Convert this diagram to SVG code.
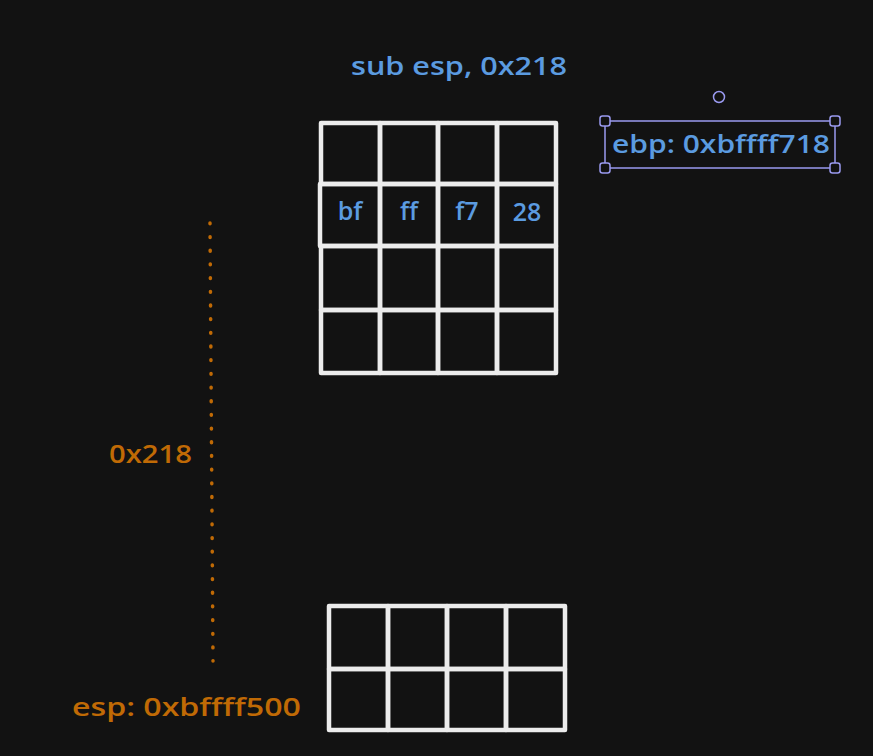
<svg xmlns="http://www.w3.org/2000/svg" width="873" height="756" viewBox="0 0 873 756">
<style>
.cell{fill:none;stroke:#ececec;stroke-width:4.5;stroke-linejoin:round}
.blue{fill:#5b9be0;font-family:"Open Sans","Liberation Sans",sans-serif;font-size:25px;font-weight:600}
.orange{fill:#c06a05;font-family:"Open Sans","Liberation Sans",sans-serif;font-size:25px;font-weight:600}
.sel{fill:none;stroke:#9a9af0;stroke-width:1.5}
.handle{fill:#121212;stroke:#9a9af0;stroke-width:1.5}
</style>
<rect width="873" height="756" fill="#121212"/>
<g id="title"><text class="blue" x="351" y="75" textLength="216" lengthAdjust="spacingAndGlyphs">sub esp, 0x218</text></g>
<g id="stack-top">
<rect class="cell" x="321" y="123" width="59" height="61"/>
<rect class="cell" x="380" y="123" width="58" height="61"/>
<rect class="cell" x="438" y="123" width="59" height="61"/>
<rect class="cell" x="497" y="123" width="59" height="61"/>
<rect class="cell" x="320" y="184" width="60" height="62"/>
<rect class="cell" x="380" y="184" width="58" height="62"/>
<rect class="cell" x="438" y="184" width="59" height="62"/>
<rect class="cell" x="497" y="184" width="59" height="62"/>
<rect class="cell" x="321" y="246" width="59" height="64"/>
<rect class="cell" x="380" y="246" width="58" height="64"/>
<rect class="cell" x="438" y="246" width="59" height="64"/>
<rect class="cell" x="497" y="246" width="59" height="64"/>
<rect class="cell" x="321" y="310" width="59" height="63"/>
<rect class="cell" x="380" y="310" width="58" height="63"/>
<rect class="cell" x="438" y="310" width="59" height="63"/>
<rect class="cell" x="497" y="310" width="59" height="63"/>
<text class="blue" x="350" y="220" text-anchor="middle" font-size="23">bf</text>
<text class="blue" x="409" y="220" text-anchor="middle" font-size="23">ff</text>
<text class="blue" x="467" y="220" text-anchor="middle" font-size="23">f7</text>
<text class="blue" x="527" y="221" text-anchor="middle" font-size="23">28</text>
</g>
<g id="ebp-label">
<rect class="sel" x="605" y="121" width="230" height="47"/>
<rect class="handle" x="600" y="116" width="10" height="10" rx="2.5"/>
<rect class="handle" x="830" y="116" width="10" height="10" rx="2.5"/>
<rect class="handle" x="600" y="163" width="10" height="10" rx="2.5"/>
<rect class="handle" x="830" y="163" width="10" height="10" rx="2.5"/>
<circle class="handle" cx="719" cy="97" r="5.5"/>
<text class="blue" x="612" y="153" textLength="218" lengthAdjust="spacingAndGlyphs">ebp: 0xbffff718</text>
</g>
<g id="connectors">
<line x1="210" y1="223" x2="213" y2="661" stroke="#c06a05" stroke-width="3.5" stroke-linecap="round" stroke-dasharray="0.8 12.88"/>
</g>
<g id="offset-label"><text class="orange" x="109" y="463" textLength="83" lengthAdjust="spacingAndGlyphs">0x218</text></g>
<g id="stack-bottom">
<rect class="cell" x="329" y="606" width="59" height="63"/>
<rect class="cell" x="388" y="606" width="59" height="63"/>
<rect class="cell" x="447" y="606" width="59" height="63"/>
<rect class="cell" x="506" y="606" width="59" height="63"/>
<rect class="cell" x="329" y="669" width="59" height="61"/>
<rect class="cell" x="388" y="669" width="59" height="61"/>
<rect class="cell" x="447" y="669" width="59" height="61"/>
<rect class="cell" x="506" y="669" width="59" height="61"/>
</g>
<g id="esp-label"><text class="orange" x="72" y="716" textLength="229" lengthAdjust="spacingAndGlyphs">esp: 0xbffff500</text></g>
</svg>
